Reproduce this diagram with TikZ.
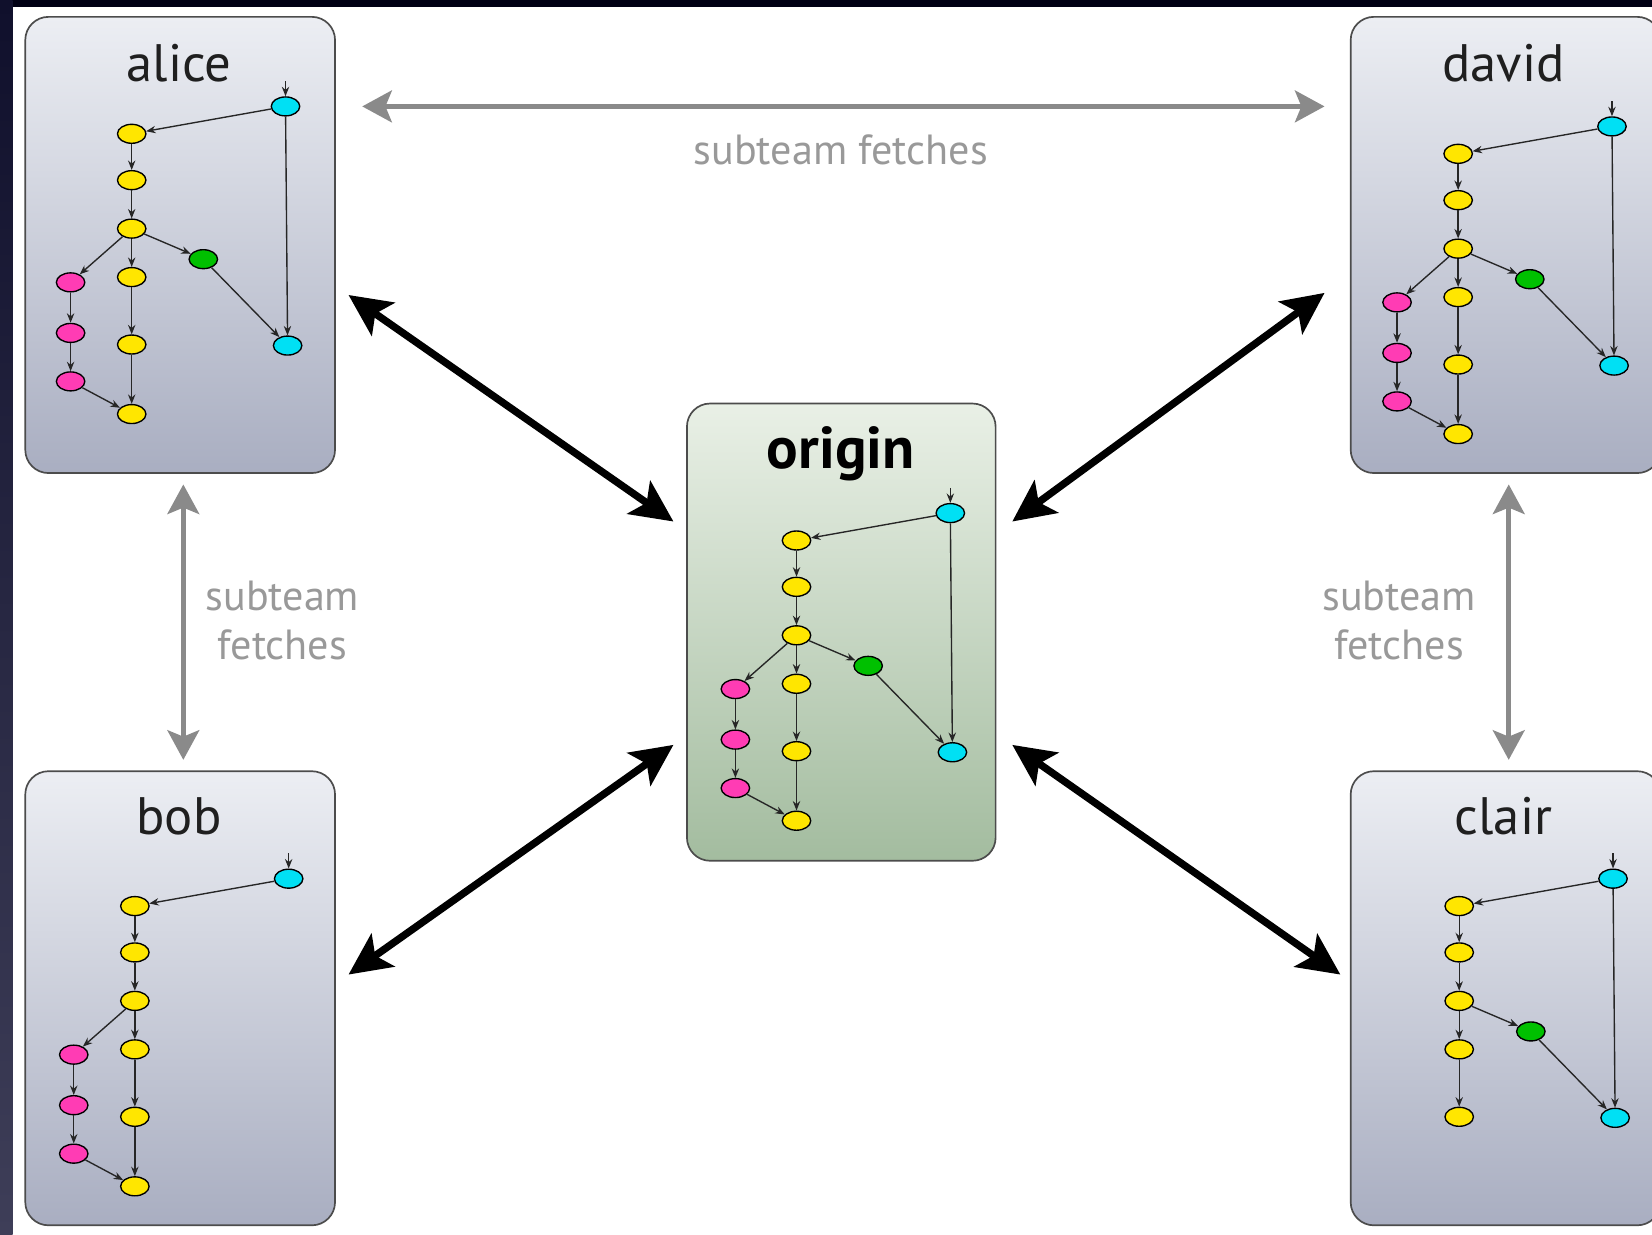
\documentclass[tikz,border=0pt]{standalone}
\usepackage{fontspec}
\setmainfont{PT Sans}
\usetikzlibrary{shapes.geometric,arrows.meta,calc}
\definecolor{ynode}{HTML}{FFE600}
\definecolor{cnode}{HTML}{00E0F4}
\definecolor{gnode}{HTML}{00C000}
\definecolor{pnode}{HTML}{FF3CB4}
\definecolor{boxtop}{HTML}{ECEEF3}
\definecolor{boxbot}{HTML}{A9AEC1}
\definecolor{otop}{HTML}{E9F0E6}
\definecolor{obot}{HTML}{A3BC9F}
\definecolor{fetchgrey}{HTML}{8A8A8A}
\definecolor{labelgrey}{HTML}{999999}
\definecolor{stripTop}{HTML}{10102C}
\definecolor{stripBot}{HTML}{3E3E58}
\tikzset{
  gnodebase/.style={ellipse, draw=black, line width=1.3pt, minimum width=27pt, minimum height=18pt, inner sep=0pt},
  ycommit/.style={gnodebase, fill=ynode},
  ccommit/.style={gnodebase, fill=cnode},
  gcommit/.style={gnodebase, fill=gnode},
  pcommit/.style={gnodebase, fill=pnode},
  gedge/.style={draw=black!85, line width=1.3pt, -{Stealth[length=9pt,width=7pt]}},
  repobox/.style={draw=black!70, line width=1.6pt, rounded corners=22pt, minimum width=294pt, minimum height=433pt, top color=boxtop, bottom color=boxbot},
  originbox/.style={repobox, minimum width=293pt, minimum height=434pt, top color=otop, bottom color=obot},
  reponame/.style={font=\fontsize{50}{56}\selectfont, text=black!88, anchor=base, inner sep=0pt},
  bigarrow/.style={draw=black, line width=7pt, {Stealth[length=40pt,width=38pt,inset=9pt]}-{Stealth[length=40pt,width=38pt,inset=9pt]}},
  greyarrow/.style={draw=fetchgrey, line width=5pt, {Stealth[length=28pt,width=30pt,inset=6pt]}-{Stealth[length=28pt,width=30pt,inset=6pt]}},
  fetchlabel/.style={font=\fontsize{40}{46}\selectfont, text=labelgrey, align=center, inner sep=0pt},
}
% core graph: cyan top, five yellows
\newcommand{\gcore}[3]{%
  \begin{scope}[shift={(#2,#3)}]
    \coordinate (#1in) at (0,-24);
    \node[ccommit] (#1c1) at (0,0) {};
    \node[ycommit] (#1y1) at (-146,26) {};
    \node[ycommit] (#1y2) at (-146,70) {};
    \node[ycommit] (#1y3) at (-146,116) {};
    \node[ycommit] (#1y4) at (-146,162) {};
    \node[ycommit] (#1y5) at (-146,226) {};
  \end{scope}
  \draw[gedge] (#1in) -- (#1c1);
  \draw[gedge] (#1c1) -- (#1y1);
  \draw[gedge] (#1y1) -- (#1y2);
  \draw[gedge] (#1y2) -- (#1y3);
  \draw[gedge] (#1y3) -- (#1y4);
  \draw[gedge] (#1y4) -- (#1y5);
}
\newcommand{\ggreen}[3]{%
  \begin{scope}[shift={(#2,#3)}]
    \node[gcommit] (#1g) at (-78,145) {};
    \node[ccommit] (#1c2) at (2,227) {};
  \end{scope}
  \draw[gedge] (#1y3) -- (#1g);
  \draw[gedge] (#1g) -- (#1c2);
  \draw[gedge] (#1c1) -- (#1c2);
}
\newcommand{\gpink}[3]{%
  \begin{scope}[shift={(#2,#3)}]
    \node[pcommit] (#1p1) at (-204,167) {};
    \node[pcommit] (#1p2) at (-204,215) {};
    \node[pcommit] (#1p3) at (-204,261) {};
    \node[ycommit] (#1y6) at (-146,292) {};
  \end{scope}
  \draw[gedge] (#1y3) -- (#1p1);
  \draw[gedge] (#1p1) -- (#1p2);
  \draw[gedge] (#1p2) -- (#1p3);
  \draw[gedge] (#1p3) -- (#1y6);
  \draw[gedge] (#1y5) -- (#1y6);
}
\begin{document}
\begin{tikzpicture}[x=1pt,y=-1pt]
  \useasboundingbox (0,0) rectangle (1568,1172);
  \clip (0,0) rectangle (1568,1172);
  \fill[white] (0,0) rectangle (1568,1172);
  \fill[black!92!blue] (0,0) rectangle (1568,6.5);
  \shade[top color=stripTop, bottom color=stripBot] (0,0) rectangle (12,1172);

  % repository boxes
  \node[repobox] (alice) at (171,232.5) {};
  \node[repobox] (david) at (1429,232.5) {};
  \node[repobox, minimum height=431pt] (bob) at (171,947.5) {};
  \node[repobox, minimum height=431pt] (clair) at (1429,947.5) {};
  \node[originbox] (origin) at (798.5,600) {};

  % names
  \node[reponame] (alicename) at (170,77) {alice};
  \node[reponame] (davidname) at (1427,77) {david};
  \node[reponame] (bobname) at (170,792) {bob};
  \node[reponame] (clairname) at (1427,792) {clair};
  \node[reponame, font=\fontsize{56}{60}\selectfont\bfseries, text=black] (originname) at (798,445) {origin};

  % commit graphs
  \gcore{a}{271}{101}\ggreen{a}{271}{101}\gpink{a}{271}{101}
  \gcore{o}{902}{487}\ggreen{o}{902}{487}\gpink{o}{902}{487}
  \gcore{d}{1530}{120}\ggreen{d}{1530}{120}\gpink{d}{1530}{120}
  \gcore{b}{274}{834}\gpink{b}{274}{834}
  \gcore{c}{1531}{834}\ggreen{c}{1531}{834}

  % subteam fetches
  \draw[greyarrow] ([shift={(25,-131.5)}]alice.east) -- ([shift={(-24,-131.5)}]david.west);
  \draw[greyarrow] ([shift={(3,10)}]alice.south) -- ([shift={(3,-10)}]bob.north);
  \draw[greyarrow] ([shift={(3,10)}]david.south) -- ([shift={(3,-10)}]clair.north);
  \node[fetchlabel, anchor=base] (fetchtop) at (798,156) {subteam fetches};
  \node[fetchlabel] (fetchleft) at (268,589) {subteam\\fetches};
  \node[fetchlabel] (fetchright) at (1328,589) {subteam\\fetches};

  % pushes/pulls with origin
  \draw[bigarrow] ([shift={(12,47.5)}]alice.east) -- ([shift={(-12,-105)}]origin.west);
  \draw[bigarrow] ([shift={(-24,45.5)}]david.west) -- ([shift={(15,-105)}]origin.east);
  \draw[bigarrow] ([shift={(12,-22.5)}]bob.east) -- ([shift={(-12,107)}]origin.west);
  \draw[bigarrow] ([shift={(-9,-22.5)}]clair.west) -- ([shift={(15,107)}]origin.east);
\end{tikzpicture}
\end{document}
